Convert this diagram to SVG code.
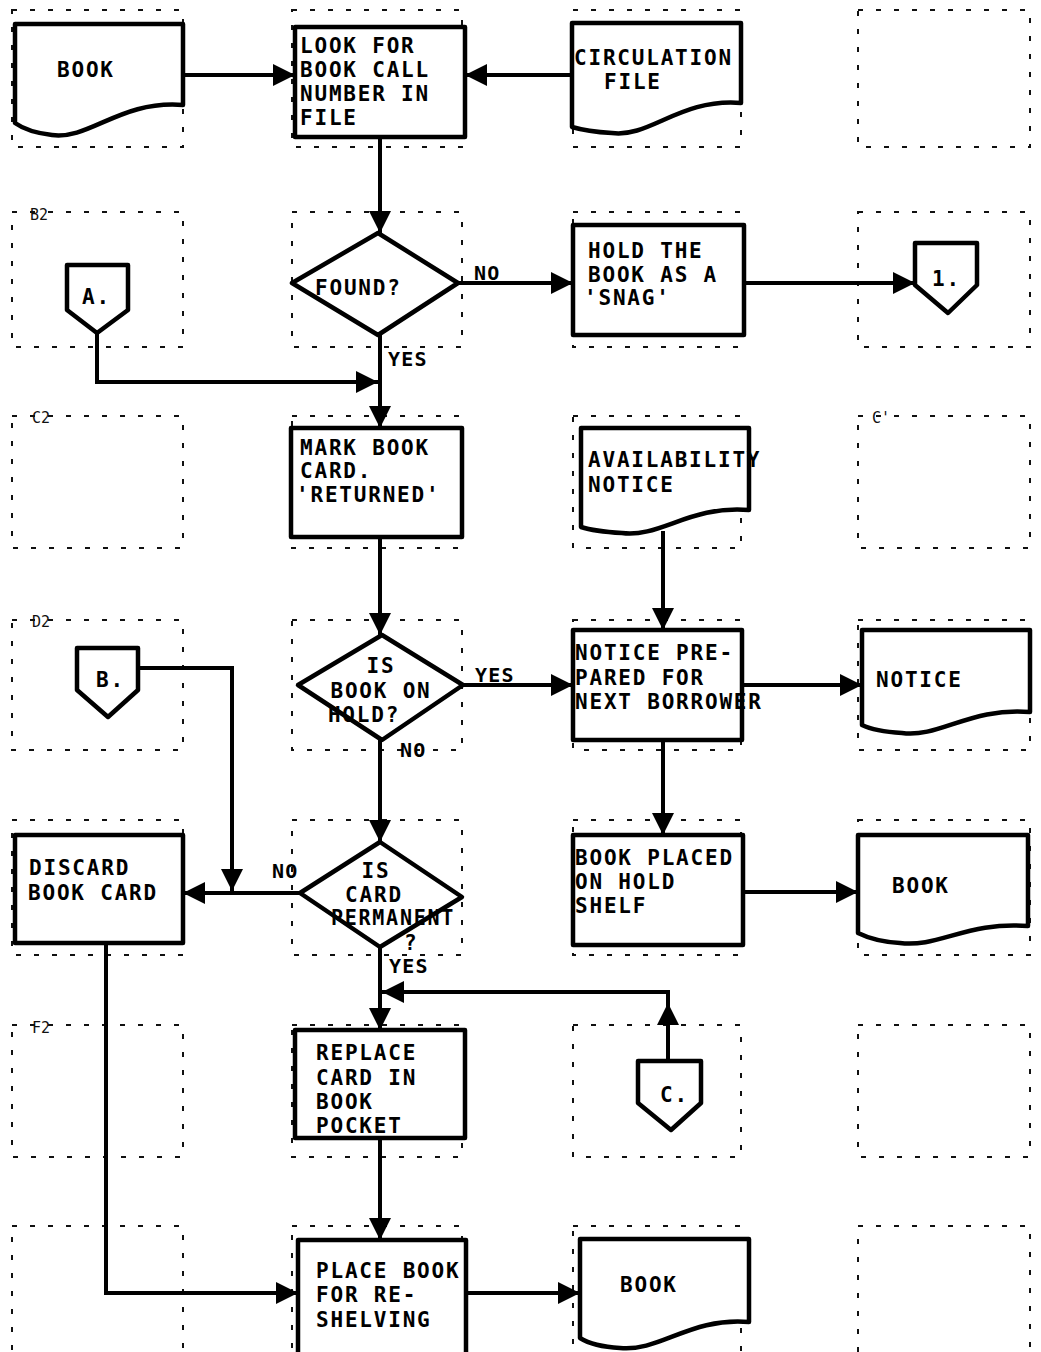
<svg xmlns="http://www.w3.org/2000/svg" width="1041" height="1352" viewBox="0 0 1041 1352">
<style>
.grid{fill:none;stroke:#111;stroke-width:2;stroke-dasharray:5 13}
.glab{font-family:"DejaVu Sans Mono",monospace;font-size:15px;fill:#111}
.shape{fill:#fff;stroke:#000;stroke-width:4.5;stroke-linejoin:round}
.t{font-family:"DejaVu Sans Mono","Liberation Mono",monospace;font-weight:bold;font-size:21px;letter-spacing:1.8px;fill:#000}
.lab{font-family:"DejaVu Sans Mono","Liberation Mono",monospace;font-weight:bold;font-size:20px;letter-spacing:1.2px;fill:#000}
.c{fill:none;stroke:#000;stroke-width:4;stroke-linejoin:miter}
.a{marker-end:url(#arr)}
</style>
<defs>
<marker id="arr" viewBox="0 0 20 20" refX="20" refY="10" markerWidth="22" markerHeight="22" markerUnits="userSpaceOnUse" orient="auto">
<path d="M0,0 L20,10 L0,20 z" fill="#000"/>
</marker>
</defs>

<g id="grid">
<rect class="grid" x="12" y="10" width="171" height="137"/>
<rect class="grid" x="292" y="10" width="170" height="137"/>
<rect class="grid" x="573" y="10" width="168" height="137"/>
<rect class="grid" x="858" y="10" width="172" height="137"/>
<rect class="grid" x="12" y="212" width="171" height="135"/>
<rect class="grid" x="292" y="212" width="170" height="135"/>
<rect class="grid" x="573" y="212" width="168" height="135"/>
<rect class="grid" x="858" y="212" width="172" height="135"/>
<rect class="grid" x="12" y="416" width="171" height="132"/>
<rect class="grid" x="292" y="416" width="170" height="132"/>
<rect class="grid" x="573" y="416" width="168" height="132"/>
<rect class="grid" x="858" y="416" width="172" height="132"/>
<rect class="grid" x="12" y="620" width="171" height="130"/>
<rect class="grid" x="292" y="620" width="170" height="130"/>
<rect class="grid" x="573" y="620" width="168" height="130"/>
<rect class="grid" x="858" y="620" width="172" height="130"/>
<rect class="grid" x="12" y="820" width="171" height="135"/>
<rect class="grid" x="292" y="820" width="170" height="135"/>
<rect class="grid" x="573" y="820" width="168" height="135"/>
<rect class="grid" x="858" y="820" width="172" height="135"/>
<rect class="grid" x="12" y="1025" width="171" height="132"/>
<rect class="grid" x="292" y="1025" width="170" height="132"/>
<rect class="grid" x="573" y="1025" width="168" height="132"/>
<rect class="grid" x="858" y="1025" width="172" height="132"/>
<rect class="grid" x="12" y="1226" width="171" height="134"/>
<rect class="grid" x="292" y="1226" width="170" height="134"/>
<rect class="grid" x="573" y="1226" width="168" height="134"/>
<rect class="grid" x="858" y="1226" width="172" height="134"/>
<text class="glab" x="30" y="220">B2</text>
<text class="glab" x="32" y="423">C2</text>
<text class="glab" x="32" y="627">D2</text>
<text class="glab" x="32" y="1033">F2</text>
<text class="glab" x="872" y="423">C'</text>
</g>

<g id="connectors">
<path class="c a" d="M183,75 H295"/>
<path class="c a" d="M572,75 H465"/>
<path class="c a" d="M380,137 V233"/>
<path class="c a" d="M458,283 H573"/>
<path class="c a" d="M744,283 H915"/>
<path class="c a" d="M97,333 V382 H378"/>
<path class="c a" d="M380,335 V428"/>
<path class="c a" d="M380,537 V635"/>
<path class="c a" d="M463,685 H573"/>
<path class="c a" d="M663,531 V630"/>
<path class="c a" d="M742,685 H862"/>
<path class="c a" d="M663,740 V835"/>
<path class="c a" d="M743,892 H858"/>
<path class="c a" d="M380,740 V842"/>
<path class="c a" d="M300,893 H183"/>
<path class="c a" d="M138,668 H232 V891"/>
<path class="c a" d="M106,943 V1293 H298"/>
<path class="c a" d="M380,947 V1030"/>
<path class="c a" d="M668,1061 V1003"/>
<path class="c a" d="M668,1004 V992 H382"/>
<path class="c a" d="M380,1138 V1240"/>
<path class="c a" d="M466,1293 H580"/>
<text class="lab" x="474" y="280">NO</text>
<text class="lab" x="388" y="366">YES</text>
<text class="lab" x="475" y="682">YES</text>
<text class="lab" x="400" y="757">NO</text>
<text class="lab" x="272" y="878">NO</text>
<text class="lab" x="389" y="973">YES</text>
</g>

<g id="n-book-in">
<path class="shape" d="M15,24 H183 V105 C120,100 90,140 52,135 C35,133 22,128 15,123 Z"/>
<text class="t" x="57" y="77">BOOK</text>
</g>

<g id="n-look">
<rect class="shape" x="295" y="27" width="170" height="110"/>
<text class="t" x="300" y="53">LOOK FOR</text>
<text class="t" x="300" y="77">BOOK CALL</text>
<text class="t" x="300" y="101">NUMBER IN</text>
<text class="t" x="300" y="125">FILE</text>
</g>

<g id="n-circ">
<path class="shape" d="M572,23 H741 V103 C680,98 650,138 612,133 C595,132 582,130 572,127 Z"/>
<text class="t" x="574" y="65">CIRCULATION</text>
<text class="t" x="604" y="89">FILE</text>
</g>

<g id="n-found">
<polygon class="shape" points="378,233 458,283 378,335 292,283"/>
<text class="t" x="315" y="295">FOUND?</text>
</g>

<g id="n-hold">
<rect class="shape" x="573" y="225" width="171" height="110"/>
<text class="t" x="588" y="258" letter-spacing="3.2">HOLD THE</text>
<text class="t" x="588" y="282" letter-spacing="2.6">BOOK AS A</text>
<text class="t" x="584" y="305">'SNAG'</text>
</g>

<g id="n-conn1">
<path class="shape" d="M915,243 H977 V285 L948,313 L915,285 Z"/>
<text class="t" x="932" y="286">1.</text>
</g>

<g id="n-connA">
<path class="shape" d="M67,265 H128 V310 L97,333 L67,310 Z"/>
<text class="t" x="82" y="304">A.</text>
</g>

<g id="n-mark">
<rect class="shape" x="291" y="428" width="171" height="109"/>
<text class="t" x="300" y="455">MARK BOOK</text>
<text class="t" x="300" y="478">CARD.</text>
<text class="t" x="296" y="502">'RETURNED'</text>
</g>

<g id="n-onhold">
<polygon class="shape" points="382,635 463,685 382,740 298,685"/>
<text class="t" x="381" y="673" text-anchor="middle">IS</text>
<text class="t" x="381" y="698" text-anchor="middle">BOOK ON</text>
<text class="t" x="364" y="722" text-anchor="middle">HOLD?</text>
</g>

<g id="n-avail">
<path class="shape" d="M581,428 H749 V510 C690,505 660,538 622,533 C605,532 590,530 581,527 Z"/>
<text class="t" x="588" y="467">AVAILABILITY</text>
<text class="t" x="588" y="492">NOTICE</text>
</g>

<g id="n-noticeprep">
<rect class="shape" x="573" y="630" width="169" height="110"/>
<text class="t" x="575" y="660">NOTICE PRE-</text>
<text class="t" x="575" y="685">PARED FOR</text>
<text class="t" x="575" y="709">NEXT BORROWER</text>
</g>

<g id="n-notice">
<path class="shape" d="M862,630 H1030 V712 C970,707 940,738 902,733 C885,732 870,729 862,725 Z"/>
<text class="t" x="876" y="687">NOTICE</text>
</g>

<g id="n-connB">
<path class="shape" d="M77,648 H138 V690 L108,717 L77,690 Z"/>
<text class="t" x="96" y="687">B.</text>
</g>

<g id="n-permanent">
<polygon class="shape" points="380,842 462,897 380,947 300,893"/>
<text class="t" x="376" y="878" text-anchor="middle">IS</text>
<text class="t" x="374" y="902" text-anchor="middle">CARD</text>
<text class="t" x="393" y="925" text-anchor="middle" textLength="124" lengthAdjust="spacingAndGlyphs">PERMANENT</text>
<text class="t" x="404" y="950">?</text>
</g>

<g id="n-discard">
<rect class="shape" x="15" y="835" width="168" height="108"/>
<text class="t" x="29" y="875">DISCARD</text>
<text class="t" x="28" y="900">BOOK CARD</text>
</g>

<g id="n-placed">
<rect class="shape" x="573" y="835" width="170" height="110"/>
<text class="t" x="575" y="865">BOOK PLACED</text>
<text class="t" x="575" y="889">ON HOLD</text>
<text class="t" x="575" y="913">SHELF</text>
</g>

<g id="n-book-hold">
<path class="shape" d="M858,835 H1028 V926 C968,921 938,948 900,943 C883,942 868,938 858,933 Z"/>
<text class="t" x="892" y="893">BOOK</text>
</g>

<g id="n-connC">
<path class="shape" d="M638,1061 H701 V1103 L671,1130 L638,1103 Z"/>
<text class="t" x="660" y="1102">C.</text>
</g>

<g id="n-replace">
<rect class="shape" x="295" y="1030" width="170" height="108"/>
<text class="t" x="316" y="1060">REPLACE</text>
<text class="t" x="316" y="1085">CARD IN</text>
<text class="t" x="316" y="1109">BOOK</text>
<text class="t" x="316" y="1133">POCKET</text>
</g>

<g id="n-shelve">
<rect class="shape" x="298" y="1240" width="168" height="125"/>
<text class="t" x="316" y="1278">PLACE BOOK</text>
<text class="t" x="316" y="1302">FOR RE-</text>
<text class="t" x="316" y="1327">SHELVING</text>
</g>

<g id="n-book-out">
<path class="shape" d="M580,1239 H749 V1322 C690,1317 660,1352 620,1348 C603,1347 588,1343 580,1338 Z"/>
<text class="t" x="620" y="1292">BOOK</text>
</g>
</svg>
